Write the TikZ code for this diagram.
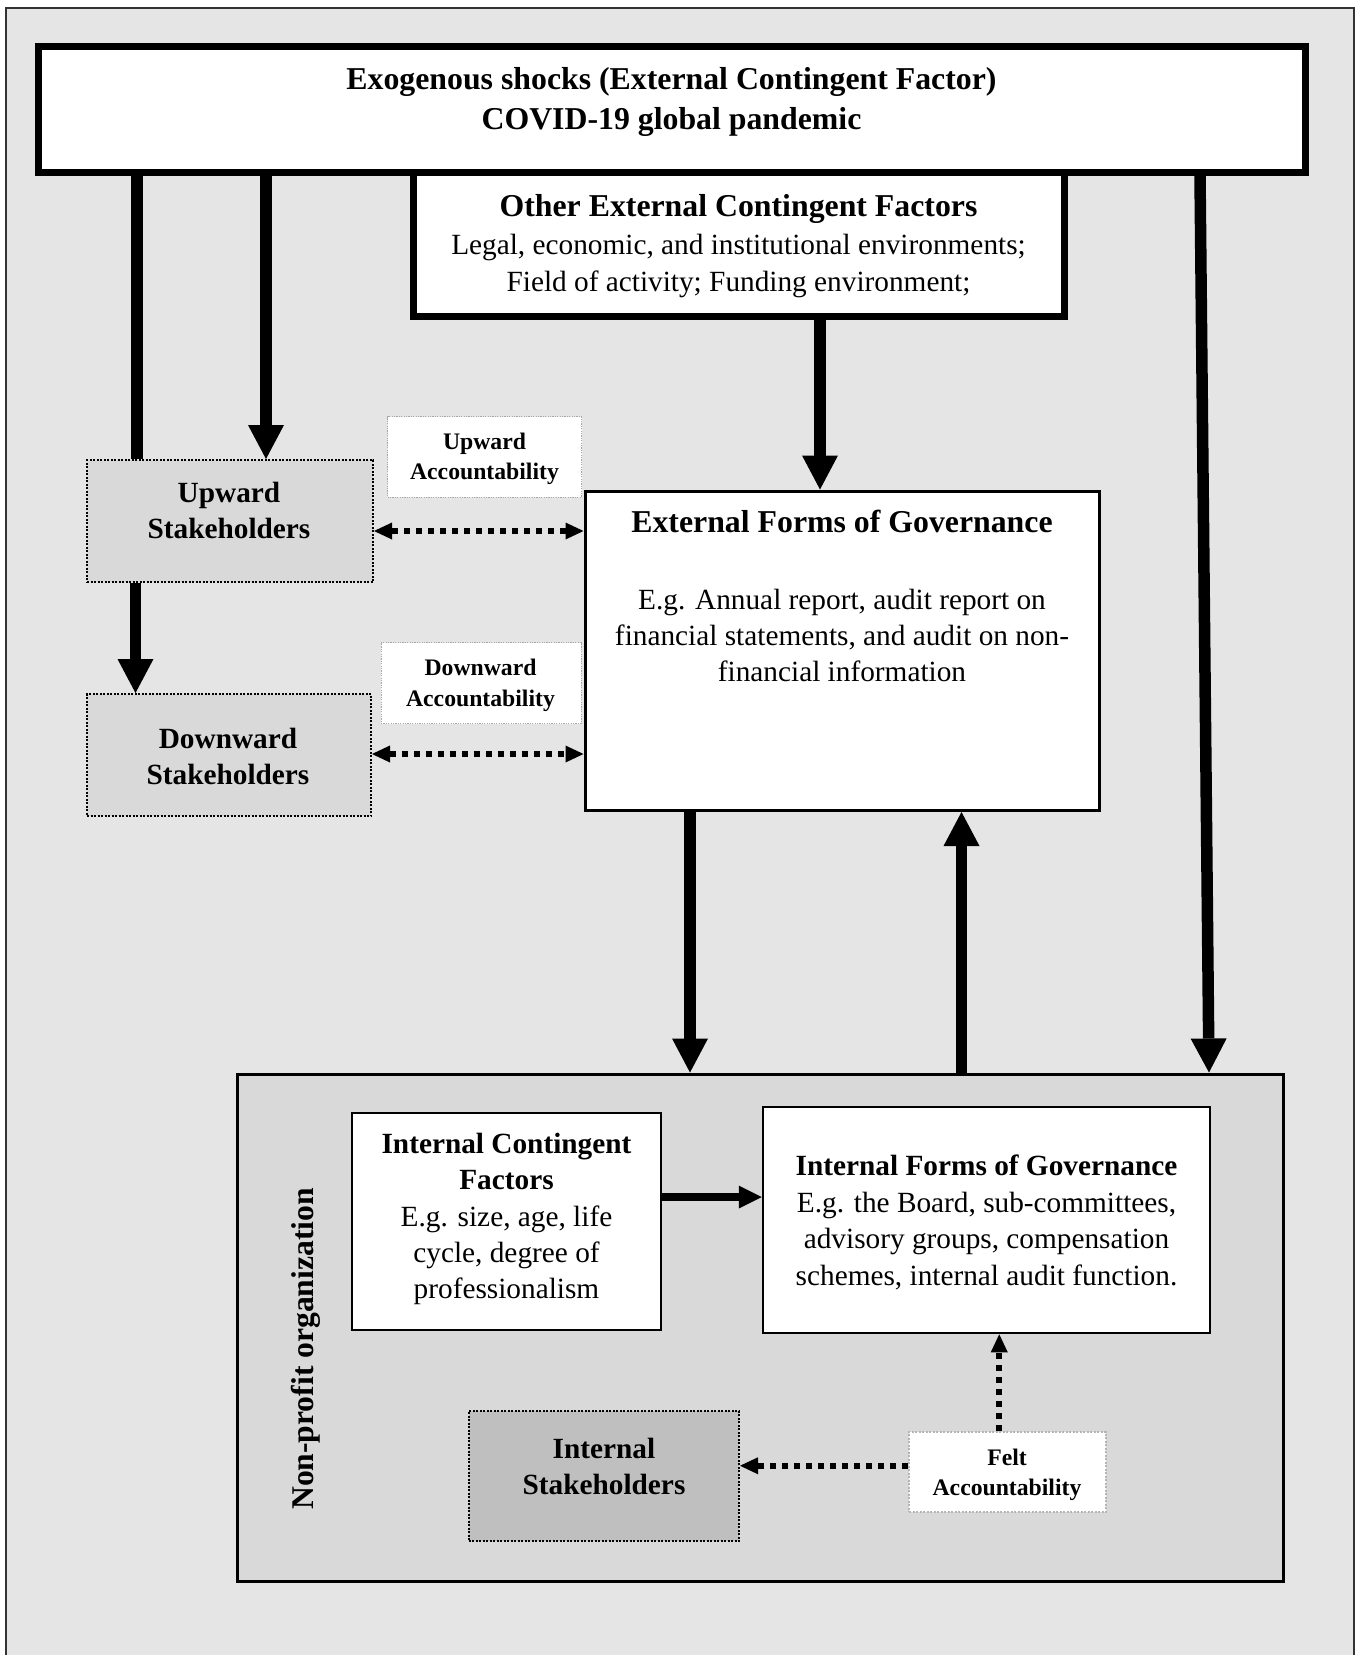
\documentclass[tikz,border=0pt]{standalone}
\usepackage{fontspec}
\setmainfont{Liberation Serif}
\usetikzlibrary{arrows.meta,calc}
\definecolor{bgray}{HTML}{E5E5E5}
\definecolor{mgray}{HTML}{D9D9D9}
\definecolor{dgray}{HTML}{BFBFBF}
\definecolor{lblgray}{HTML}{A8A8A8}
\newcommand\fTitle{\fontsize{31.8}{40}\selectfont\bfseries}
\newcommand\fBodyA{\fontsize{29.3}{37}\selectfont}
\newcommand\fBodyB{\fontsize{29.3}{36.4}\selectfont}
\newcommand\fBold{\fontsize{29.3}{36}\selectfont\bfseries}
\newcommand\fLbl{\fontsize{23.7}{30.5}\selectfont\bfseries}
\begin{document}
\begin{tikzpicture}[x=1pt,y=-1pt,
  box/.style={draw=black, fill=white, inner sep=0pt, rectangle},
  stake/.style={draw=black, line width=2pt, dash pattern=on 2pt off 1.5pt, inner sep=0pt, rectangle},
  lbl/.style={draw=lblgray, fill=white, line width=1pt, dash pattern=on 1.2pt off 1.2pt, inner sep=0pt, rectangle},
  txt/.style={align=center, inner sep=0pt},
  thickarrow/.style={line width=11.5pt, -{Triangle[length=34pt,width=36pt,line width=0pt]}},
  thickline/.style={line width=12pt},
  medarrow/.style={line width=8.5pt, -{Triangle[length=23pt,width=23pt,line width=0pt]}},
  dotline/.style={line width=6pt, dash pattern=on 6pt off 6pt},
]
\useasboundingbox (0,0) rectangle (1362,1655);
\clip (0,0) rectangle (1362,1655);
\draw[line width=2pt, draw=black!80, fill=bgray] (6,8) rectangle (1354,1700);

% boxes
\node[box, line width=7pt, minimum width=651pt, minimum height=144pt] (other) at (738.5,244) {};
\node[box, line width=7pt, minimum width=1267pt, minimum height=125.5pt] (exo) at (671.5,109.25) {};
\node[stake, fill=mgray, minimum width=286pt, minimum height=122pt] (upw) at (230,521) {};
\node[stake, fill=mgray, minimum width=284pt, minimum height=122pt] (dwn) at (229,755) {};
\node[lbl, minimum width=194pt, minimum height=80.5pt] (upacc) at (484.5,456.75) {};
\node[lbl, minimum width=200pt, minimum height=81pt] (dwnacc) at (481,683) {};
\node[box, line width=3pt, minimum width=514pt, minimum height=319.5pt] (ext) at (842,650.75) {};
\node[draw=black, fill=mgray, line width=3pt, minimum width=1046pt, minimum height=507pt, inner sep=0pt, rectangle] (npo) at (760,1327.5) {};
\node[box, line width=2.5pt, minimum width=309pt, minimum height=217pt] (icf) at (506.5,1221.5) {};
\node[box, line width=2.5pt, minimum width=447pt, minimum height=226pt] (ifg) at (986.5,1220) {};
\node[stake, fill=dgray, minimum width=270.5pt, minimum height=130pt] (ist) at (603.75,1476) {};
\node[lbl, line width=2pt, draw=lblgray!85, dash pattern=on 2pt off 1.5pt, minimum width=196.5pt, minimum height=80.5pt] (felt) at (1007.25,1471.75) {};

% texts
\node[txt, font=\fTitle] (exotxt) at (671.5,102) {Exogenous shocks (External Contingent Factor)\\COVID-19 global pandemic};
\node[txt, font=\fTitle] (othertitle) at (738.5,209) {Other External Contingent Factors};
\node[txt, font=\fBodyA] (otherbody) at (738.5,265.5) {Legal, economic, and institutional environments;\\Field of activity; Funding environment;};
\node[txt, font=\fBold] (upwtxt) at (229,510) {Upward\\Stakeholders};
\node[txt, font=\fBold] (dwntxt) at (228,756) {Downward\\Stakeholders};
\node[txt, font=\fLbl] (upacctxt) at (484.5,459) {Upward\\Accountability};
\node[txt, font=\fLbl] (dwnacctxt) at (480.5,685.5) {Downward\\Accountability};
\node[txt, font=\fTitle] (exttitle) at (842,521) {External Forms of Governance};
\node[txt, font=\fBodyB] (extbody) at (842,635.4) {E.g. Annual report, audit report on\\financial statements, and audit on non-\\financial information};
\node[txt, font=\fBodyB] (icftxt) at (506.5,1219) {{\bfseries Internal Contingent}\\{\bfseries Factors}\\E.g. size, age, life\\cycle, degree of\\professionalism};
\node[txt, font=\fBodyB] (ifgtxt) at (986.5,1222.5) {{\bfseries Internal Forms of Governance}\\E.g. the Board, sub-committees,\\advisory groups, compensation\\schemes, internal audit function.};
\node[txt, font=\fBold] (isttxt) at (604,1466.5) {Internal\\Stakeholders};
\node[txt, font=\fLbl] (felttxt) at (1007,1475) {Felt\\Accountability};
\node[txt, rotate=90, font=\fontsize{31.6}{38}\selectfont\bfseries] (npotxt) at (306,1349) {Non-profit organization};

% connectors
\coordinate (c1) at ($(upw.north west)+(51,0)$);
\draw[thickline] (c1 |- exo.south) -- (c1);
\coordinate (c2) at ($(upw.north west)+(180,0)$);
\draw[thickarrow] (c2 |- exo.south) -- (c2);
\coordinate (c3) at ($(ext.north)+(-22,0)$);
\draw[thickarrow] (c3 |- other.south) -- (c3);
\draw[thickarrow] ($(exo.south east)+(-108.5,0)$) -- ($(npo.north east)+(-75.5,0)$);
\coordinate (c5) at ($(upw.south west)+(49.5,0)$);
\draw[thickarrow] (c5) -- (c5 |- dwn.north);
\coordinate (c6) at ($(ext.south west)+(106.5,0)$);
\draw[thickarrow] (c6) -- (c6 |- npo.north);
\coordinate (c7) at ($(ext.south)+(119.5,0)$);
\draw[thickarrow] (c7 |- npo.north) -- (c7);
\coordinate (c8) at ($(icf.east)+(0,-24.5)$);
\draw[medarrow] (c8) -- (c8 -| ifg.west);

\coordinate (d1) at ($(upw.east)+(0,10)$);
\draw[dotline, {Triangle[length=18pt,width=17pt,line width=0pt]}-{Triangle[length=18pt,width=17pt,line width=0pt]}] (d1) -- (d1 -| ext.west);
\coordinate (d2) at ($(dwn.east)+(0,-1)$);
\draw[dotline, {Triangle[length=18pt,width=17pt,line width=0pt]}-{Triangle[length=18pt,width=17pt,line width=0pt]}] (d2) -- (d2 -| ext.west);
\coordinate (d3) at ($(felt.west)+(0,-6)$);
\draw[dotline, -{Triangle[length=18pt,width=17pt,line width=0pt]}] (d3) -- (d3 -| ist.east);
\coordinate (d4) at ($(felt.north)+(-8,0)$);
\draw[dotline, -{Triangle[length=18pt,width=17pt,line width=0pt]}] (d4) -- (d4 |- ifg.south);
\end{tikzpicture}
\end{document}
